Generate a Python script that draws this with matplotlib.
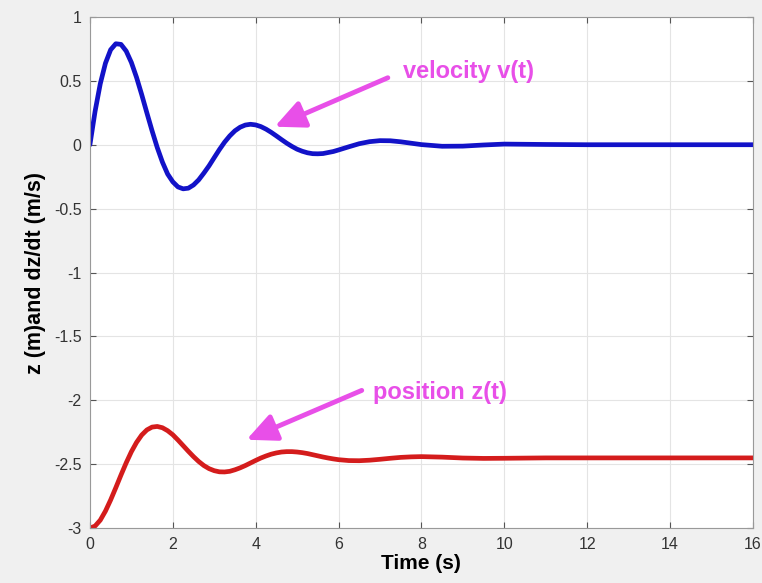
import numpy as np
import matplotlib.pyplot as plt

plt.rcParams['font.family'] = ['Liberation Sans', 'DejaVu Sans']

# values
t = [0, 0.125, 0.25, 0.375, 0.5, 0.625, 0.75, 0.875, 1.0, 1.125, 1.25, 1.375,
     1.5, 1.625, 1.75, 1.875, 2.0, 2.125, 2.25, 2.375, 2.5, 2.625, 2.75, 2.875,
     3.0, 3.125, 3.25, 3.375, 3.5, 3.625, 3.75, 3.875, 4.0, 4.125, 4.25, 4.375,
     4.5, 4.625, 4.75, 4.875, 5.0, 5.125, 5.25, 5.375, 5.5, 5.625, 5.75, 5.875,
     6.0, 6.25, 6.5, 6.75, 7.0, 7.25, 7.5, 7.75, 8.0, 8.5, 9.0, 9.5, 10,
     11, 12, 13, 14, 15, 16]

velocity = [0, 0.262, 0.477, 0.638, 0.743, 0.790, 0.785, 0.733, 0.644, 0.527,
            0.392, 0.249, 0.109, -0.022, -0.136, -0.229, -0.290, -0.330, -0.345,
            -0.340, -0.315, -0.275, -0.222, -0.165, -0.101, -0.038, 0.020, 0.069,
            0.109, 0.137, 0.154, 0.160, 0.155, 0.142, 0.122, 0.097, 0.069, 0.040,
            0.012, -0.013, -0.035, -0.051, -0.063, -0.070, -0.071, -0.069, -0.061,
            -0.053, -0.041, -0.016, 0.008, 0.024, 0.032, 0.031, 0.023, 0.012,
            0.001, -0.012, -0.011, -0.002, 0.005, 0.002, 0, 0, 0, 0, 0]

position = [-3.0, -2.983, -2.937, -2.866, -2.779, -2.683, -2.584, -2.489, -2.402,
            -2.329, -2.271, -2.231, -2.209, -2.204, -2.214, -2.237, -2.269, -2.310,
            -2.354, -2.398, -2.440, -2.478, -2.510, -2.534, -2.550, -2.559, -2.560,
            -2.555, -2.543, -2.528, -2.510, -2.490, -2.470, -2.451, -2.435, -2.421,
            -2.411, -2.404, -2.401, -2.401, -2.404, -2.409, -2.416, -2.425, -2.434,
            -2.443, -2.451, -2.458, -2.464, -2.471, -2.472, -2.468, -2.461, -2.453,
            -2.446, -2.442, -2.440, -2.444, -2.451, -2.454, -2.453, -2.450, -2.450,
            -2.450, -2.450, -2.450, -2.450]

xticks = np.arange(0, 17, 2)
yticks = np.arange(-3, 1.01, 0.5)
ytick_labels = ['-3', '-2.5', '-2', '-1.5', '-1', '-0.5', '0', '0.5', '1']

magenta = '#e84fe8'

fig = plt.figure(figsize=(7.62, 5.83), dpi=100, facecolor='#f0f0f0')
ax = fig.add_axes([0.118, 0.094, 0.870, 0.877])
ax.set_facecolor('white')

ax.plot(t, velocity, color='#1212c8', lw=3.4, solid_capstyle='round',
        solid_joinstyle='round')
ax.plot(t, position, color='#d41c1c', lw=3.4, solid_capstyle='round',
        solid_joinstyle='round')

ax.set_xlim(0, 16)
ax.set_ylim(-3, 1)
ax.set_xticks(xticks)
ax.set_yticks(yticks)
ax.set_yticklabels(ytick_labels)
ax.grid(True, color='#e4e4e4', lw=0.8)
ax.set_axisbelow(True)
ax.tick_params(direction='in', length=4, colors='#555555', labelsize=11.5,
               labelcolor='#333333', top=True, right=True, pad=6)
for s in ax.spines.values():
    s.set_color('#999999')
    s.set_linewidth(0.8)

ax.set_xlabel('Time (s)', fontsize=15, fontweight='bold', labelpad=2)
ax.set_ylabel('z (m)and dz/dt (m/s)', fontsize=15.5, fontweight='bold', labelpad=6)

arrow = dict(arrowstyle='-|>,head_length=0.6,head_width=0.28', color=magenta,
             lw=3.5, mutation_scale=30, shrinkA=0, shrinkB=0)
ax.annotate('', xy=(4.46, 0.141), xytext=(7.19, 0.524), arrowprops=arrow)
ax.text(7.55, 0.575, 'velocity v(t)', color=magenta, fontsize=17,
        fontweight='bold', va='center', ha='left')

ax.annotate('', xy=(3.78, -2.308), xytext=(6.56, -1.922), arrowprops=arrow)
ax.text(6.83, -1.94, 'position z(t)', color=magenta, fontsize=17,
        fontweight='bold', va='center', ha='left')

fig.savefig('out.png', dpi=100, facecolor=fig.get_facecolor())
